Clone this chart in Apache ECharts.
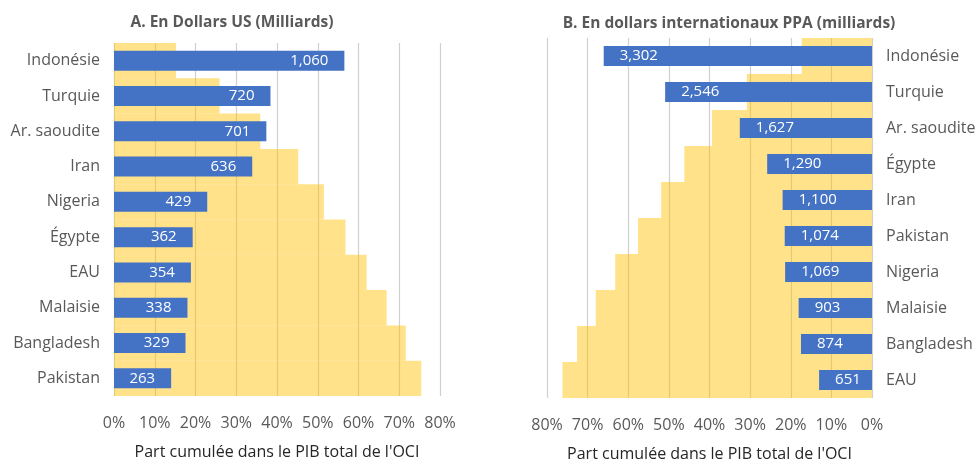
<!DOCTYPE html>
<html><head><meta charset="utf-8">
<script src="https://cdn.jsdelivr.net/npm/echarts@6/dist/echarts.min.js"></script>
<style>html,body{margin:0;padding:0;background:#fff}#c{width:980px;height:460px}</style>
</head><body><div id="c"></div>
<script>
// ---- Data ----
const titleA = 'A. En Dollars US (Milliards)';
const titleB = 'B. En dollars internationaux PPA (milliards)';
const axisName = "Part cumulée dans le PIB total de l'OCI";
const categoriesA = ['Indonésie','Turquie','Ar. saoudite','Iran','Nigeria','Égypte','EAU','Malaisie','Bangladesh','Pakistan'];
const gdpUS = [1060, 720, 701, 636, 429, 362, 354, 338, 329, 263];
const cumShareA = [15.2, 25.9, 35.9, 45.2, 51.5, 56.8, 62.0, 66.9, 71.6, 75.4];
const categoriesB = ['Indonésie','Turquie','Ar. saoudite','Égypte','Iran','Pakistan','Nigeria','Malaisie','Bangladesh','EAU'];
const gdpPPP = [3302, 2546, 1627, 1290, 1100, 1074, 1069, 903, 874, 651];
const cumShareB = [17.3, 30.8, 39.4, 46.2, 51.9, 57.6, 63.2, 68.0, 72.6, 76.2];
const shareTicks = [0, 10, 20, 30, 40, 50, 60, 70, 80];
const gdpAxisMaxA = 1500;  // secondary scale: 1500 bn <-> 80 %
const gdpAxisMaxB = 4000;  // secondary scale: 4000 bn <-> 80 %

// ---- Style ----
const FONT = 'Open Sans';
const GRAY = '#595959';
const BLUE = '#4472C4';
const YELLOW = 'rgba(255,192,0,0.46)';
const GRID = '#d0d0d0';
function fmt(v){ return String(v).replace(/\B(?=(\d{3})+(?!\d))/g, ','); }

const chart = echarts.init(document.getElementById('c'));
const shareAxis = (grid, inverse) => ({
  type: 'value', gridIndex: grid, inverse: inverse,
  min: shareTicks[0], max: shareTicks[shareTicks.length-1], interval: shareTicks[1]-shareTicks[0],
  axisLine: {show:false}, axisTick: {show:false},
  axisLabel: {color: GRAY, fontFamily: FONT, fontSize: 16, margin: 19, formatter: '{value}%'},
  splitLine: {show:true, lineStyle: {color: GRID, width: 1.2}},
  name: axisName, nameLocation: 'middle', nameGap: 48,
  nameTextStyle: {color: '#262626', fontFamily: FONT, fontSize: 16}
});
const hiddenAxis = (grid, max, inverse) => ({
  type: 'value', gridIndex: grid, inverse: inverse, min: 0, max: max, show: false
});
const catAxis = (grid, cats, pos) => ({
  type: 'category', gridIndex: grid, data: cats, inverse: true, position: pos,
  axisLine: {show:false}, axisTick: {show:false},
  axisLabel: {color: GRAY, fontFamily: FONT, fontSize: 16, margin: 14}
});
const hiddenCat = (grid, cats) => ({type:'category', gridIndex: grid, data: cats, inverse: true, show:false});

chart.setOption({
  animation: false,
  textStyle: {fontFamily: FONT},
  grid: [
    {left: 114, top: 43, width: 326, height: 353, outerBoundsMode: 'none', containLabel: false},
    {left: 547, top: 38, width: 325, height: 360, outerBoundsMode: 'none', containLabel: false}
  ],
  xAxis: [shareAxis(0,false), hiddenAxis(0,gdpAxisMaxA,false), shareAxis(1,true), hiddenAxis(1,gdpAxisMaxB,true)],
  yAxis: [catAxis(0,categoriesA,'left'), hiddenCat(0,categoriesA), catAxis(1,categoriesB,'right'), hiddenCat(1,categoriesB)],
  series: [
    {type:'bar', name:'Part cumulée A', xAxisIndex:0, yAxisIndex:0, data: cumShareA, barCategoryGap: 0, barWidth: '100%', itemStyle:{color: YELLOW}, silent:true},
    {type:'bar', name:'PIB USD', xAxisIndex:1, yAxisIndex:1, data: gdpUS, barWidth: 20, itemStyle:{color: BLUE},
      label:{show:true, position:'insideRight', distance: 16, color:'#fff', fontFamily: FONT, fontSize: 15, formatter: p => fmt(p.value)}},
    {type:'bar', name:'Part cumulée B', xAxisIndex:2, yAxisIndex:2, data: cumShareB, barCategoryGap: 0, barWidth: '100%', itemStyle:{color: YELLOW}, silent:true},
    {type:'bar', name:'PIB PPA', xAxisIndex:3, yAxisIndex:3, data: gdpPPP, barWidth: 20, itemStyle:{color: BLUE},
      label:{show:true, position:'insideLeft', distance: 16, color:'#fff', fontFamily: FONT, fontSize: 15, formatter: p => fmt(p.value)}}
  ],
  graphic: [
    {type:'text', x: 232, y: 23, style:{text: titleA, fill: GRAY, font: 'bold 15.5px "Open Sans"', textAlign:'center', textVerticalAlign:'middle'}},
    {type:'text', x: 729, y: 24, style:{text: titleB, fill: GRAY, font: 'bold 15.5px "Open Sans"', textAlign:'center', textVerticalAlign:'middle'}}
  ]
});
</script></body></html>
